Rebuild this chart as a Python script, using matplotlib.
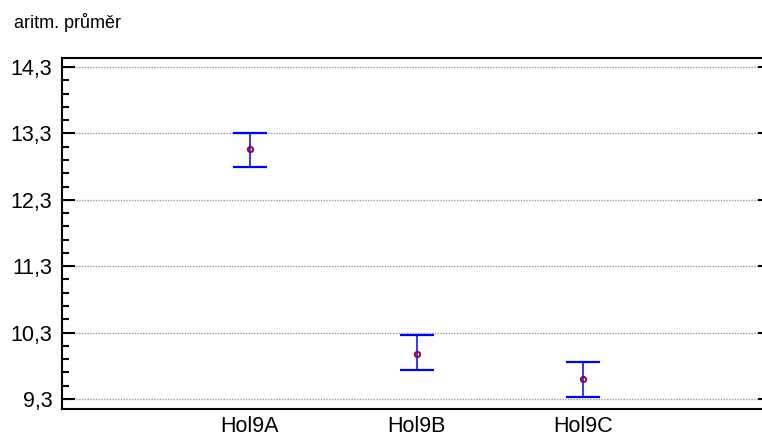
import numpy as np
import matplotlib.pyplot as plt
from matplotlib.ticker import FixedLocator, FuncFormatter

plt.rcParams['font.family'] = ['Liberation Sans', 'DejaVu Sans']

# data
groups = ['Hol9A', 'Hol9B', 'Hol9C']
means = [13.06, 9.98, 9.60]
upper = [13.31, 10.26, 9.86]
lower = [12.79, 9.73, 9.33]

pos = np.arange(1, len(groups) + 1)
err_lo = np.array(means) - np.array(lower)
err_hi = np.array(upper) - np.array(means)

fig = plt.figure(figsize=(7.62, 4.37), dpi=100)
ax = fig.add_axes([62 / 762, 28 / 437, 709 / 762, 351 / 437])

ax.errorbar(pos, means, yerr=[err_lo, err_hi], fmt='none', ecolor='#0000ff',
            elinewidth=1.1, capsize=12, capthick=1.6, zorder=3)
ax.plot(pos, means, 'o', ms=3.8, mfc='none', mec='#990040', mew=1.4, zorder=4)

ax.set_xlim(-0.128, 4.126)
ax.set_ylim(9.15, 14.435)
ax.yaxis.set_major_locator(FixedLocator([9.3, 10.3, 11.3, 12.3, 13.3, 14.3]))
ax.yaxis.set_minor_locator(FixedLocator(np.arange(9.3, 14.4, 0.2)))
ax.yaxis.set_major_formatter(FuncFormatter(lambda v, p: f'{v:.1f}'.replace('.', ',')))
ax.set_xticks(pos)
ax.set_xticklabels(groups)

ax.grid(axis='y', which='major', color='#999999', linestyle=(0, (1, 1)), linewidth=1.0)
# right spine lies just past the image edge, only the tips of its ticks show
ax.tick_params(axis='y', which='major', direction='in', length=9.5, width=1.5,
               labelsize=15.5, pad=7, right=True)
ax.tick_params(axis='y', which='minor', direction='in', length=5, width=1.5, right=False)
ax.tick_params(axis='x', length=0, labelsize=15.5, pad=5)
for s in ax.spines.values():
    s.set_linewidth(1.5)
ax.spines['right'].set_visible(False)

fig.text(14 / 762, 1 - 28 / 437, 'aritm. průměr', fontsize=13, va='baseline', ha='left')

fig.savefig('out.png', dpi=100)
